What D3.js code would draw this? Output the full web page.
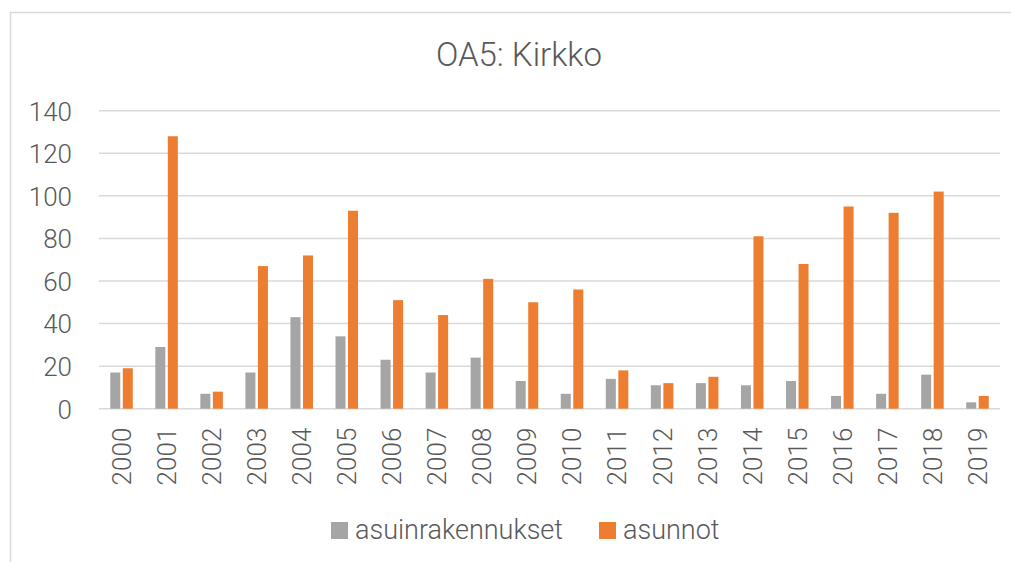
<!DOCTYPE html>
<html>
<head>
<meta charset="utf-8">
<script src="https://cdn.jsdelivr.net/npm/d3@7"></script>
<style>
  body { margin: 0; background: #fff; }
  svg text { font-family: Roboto, "Liberation Sans", sans-serif; font-weight: 300; fill: #595959; }
</style>
</head>
<body>
<svg id="chart" width="1011" height="562"></svg>
<script>
// chart data
const years = ["2000","2001","2002","2003","2004","2005","2006","2007","2008","2009",
               "2010","2011","2012","2013","2014","2015","2016","2017","2018","2019"];
const asuinrakennukset = [17,29,7,17,43,34,23,17,24,13,7,14,11,12,11,13,6,7,16,3];
const asunnot = [19,128,8,67,72,93,51,44,61,50,56,18,12,15,81,68,95,92,102,6];
const seriesNames = ["asuinrakennukset","asunnot"];
const seriesColors = ["#a5a5a5","#ed7d31"];
const yTicks = [0,20,40,60,80,100,120,140];

let chart = d3.select("#chart");

// chart border
chart.append("rect")
    .attr("x", 10.5).attr("y", 12.5)
    .attr("width", 1010).attr("height", 560)
    .attr("fill", "none")
    .attr("stroke", "#d9d9d9")
    .attr("stroke-width", 1.5);

// title
chart.append("text")
    .text("OA5: Kirkko")
    .attr("x", 519)
    .attr("y", 66)
    .attr("text-anchor", "middle")
    .style("font-size", "33px");

// scales
let x = d3.scaleBand()
    .domain(years)
    .range([99, 1000]);

let y = d3.scaleLinear()
    .domain([0, 140])
    .range([408.7, 110.7]);

let bw = x.bandwidth();
let x1 = d3.scaleBand()
    .domain(seriesNames)
    .range([bw * 0.25, bw * 0.75])
    .paddingInner(0.2);

// gridlines
chart.append("g")
    .selectAll("line")
    .data(yTicks).enter()
    .append("line")
        .attr("x1", 99).attr("x2", 1000)
        .attr("y1", d => y(d)).attr("y2", d => y(d))
        .attr("stroke", "#d9d9d9")
        .attr("stroke-width", 1.5);

// y axis labels
let yAxis = d3.axisLeft(y).tickValues(yTicks).tickSize(0).tickPadding(0);
let yAxisGroup = chart.append("g")
    .attr("transform", "translate(72,0)")
    .call(yAxis);
yAxisGroup.select(".domain").remove();
yAxisGroup.selectAll("text")
    .attr("dy", "0.36em")
    .style("font-size", "26px")
    .style("font-family", "Roboto, 'Liberation Sans', sans-serif")
    .attr("fill", "#595959");

// bars
const data = years.map((yr, i) => ({year: yr, values: [asuinrakennukset[i], asunnot[i]]}));
let groups = chart.append("g")
    .selectAll("g")
    .data(data).enter()
    .append("g")
        .attr("transform", d => "translate(" + x(d.year) + ",0)");

groups.selectAll("rect")
    .data(d => d.values.map((v, j) => ({name: seriesNames[j], value: v, color: seriesColors[j]})))
    .enter()
    .append("rect")
        .attr("x", d => x1(d.name))
        .attr("width", x1.bandwidth())
        .attr("y", d => y(d.value))
        .attr("height", d => y(0) - y(d.value))
        .attr("fill", d => d.color);

// x axis labels
let xAxis = d3.axisBottom(x).tickSize(0).tickPadding(0);
let xAxisGroup = chart.append("g")
    .attr("transform", "translate(0,408.7)")
    .call(xAxis);
xAxisGroup.select(".domain").remove();
xAxisGroup.selectAll("text")
    .attr("transform", "rotate(-90)")
    .attr("text-anchor", "end")
    .attr("x", -19)
    .attr("y", 0)
    .attr("dy", "0.36em")
    .style("font-size", "26px")
    .style("font-family", "Roboto, 'Liberation Sans', sans-serif")
    .attr("fill", "#595959");

// legend
const legendX = [331, 599];
let legend = chart.append("g")
    .selectAll("g")
    .data(seriesNames).enter()
    .append("g")
        .attr("transform", (d, i) => "translate(" + legendX[i] + ",522)");
legend.append("rect")
    .attr("width", 17).attr("height", 17)
    .attr("fill", (d, i) => seriesColors[i]);
legend.append("text")
    .text(d => d)
    .attr("x", 24)
    .attr("y", 17)
    .style("font-size", "27px");
</script>
</body>
</html>
